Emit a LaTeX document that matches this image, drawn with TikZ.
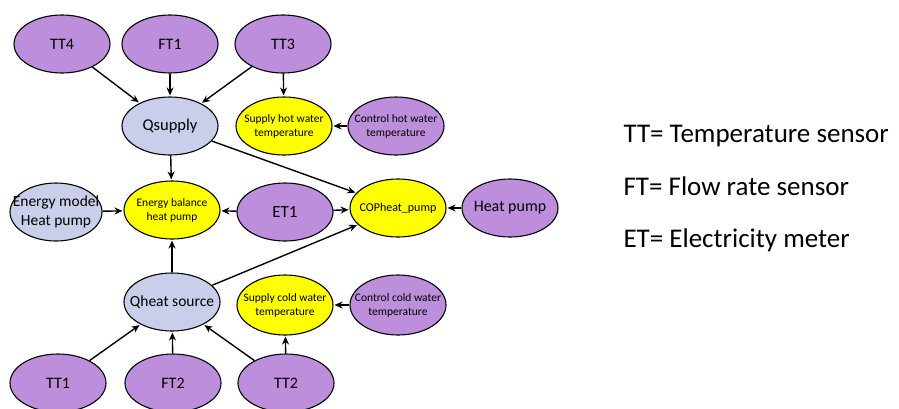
\documentclass[tikz,border=0pt]{standalone}
\usepackage{fontspec}
\setmainfont{Carlito}
\usetikzlibrary{shapes.geometric,arrows.meta}
\definecolor{sensor}{RGB}{189,142,220}
\definecolor{derived}{RGB}{201,206,234}
\definecolor{target}{RGB}{255,255,0}
\begin{document}
\begin{tikzpicture}[x=1pt,y=-1pt,
  bubble/.style={ellipse,draw=black,line width=1.1pt,minimum width=96pt,minimum height=58pt,inner xsep=-14pt,inner ysep=-8pt,align=center},
  sens/.style={bubble,fill=sensor,font=\fontsize{16}{18}\selectfont},
  calc/.style={bubble,fill=derived,font=\fontsize{15.5}{18}\selectfont},
  goal/.style={bubble,fill=target,font=\fontsize{11.5}{14}\selectfont},
  small/.style={font=\fontsize{11.5}{14}\selectfont},
  link/.style={-{Stealth[length=8pt,width=7pt]},line width=1.4pt,shorten >=1pt},
  legend/.style={anchor=base west,font=\fontsize{27}{30}\selectfont}]
\useasboundingbox (0,0) rectangle (899,408);

% sensors and inputs
\node[sens] (tt4) at (62,44) {TT4};
\node[sens] (ft1) at (170,44) {FT1};
\node[sens] (tt3) at (283,44) {TT3};
\node[calc,font=\fontsize{16.5}{19}\selectfont] (qsup) at (170,126) {Qsupply};
\node[goal] (shw) at (284,126) {Supply hot water\\temperature};
\node[sens,small] (chw) at (396,126) {Control hot water\\temperature};

\node[calc,minimum width=92pt,font=\fontsize{15.5}{19}\selectfont] (emod) at (56,212) {Energy model\\Heat pump};
\node[goal] (ebal) at (172,210) {Energy balance\\heat pump};
\node[sens,font=\fontsize{17}{20}\selectfont] (et1) at (285,212) {ET1};
\node[goal,font=\fontsize{12}{14}\selectfont] (cop) at (398,208) {COPheat\_pump};
\node[sens,font=\fontsize{16}{20}\selectfont] (hp) at (510,208) {Heat pump};

\node[calc] (qhs) at (172,302) {Qheat source};
\node[goal,minimum height=60pt] (scw) at (285,305) {Supply cold water\\temperature};
\node[sens,small,minimum height=60pt] (ccw) at (398,305) {Control cold water\\temperature};

\node[sens] (tt1) at (58,383) {TT1};
\node[sens] (ft2) at (173,383) {FT2};
\node[sens] (tt2) at (286,383) {TT2};

% connections
\draw[link] (tt4) -- (qsup);
\draw[link] (ft1) -- (qsup);
\draw[link] (tt3) -- (qsup);
\draw[link] (tt3) -- (shw);
\draw[link] (chw) -- (shw);
\draw[link] (qsup) -- (ebal);
\draw[link] (qsup) -- (cop);
\draw[link] (emod) -- (ebal);
\draw[link] (et1) -- (ebal);
\draw[link] (et1) -- (cop);
\draw[link] (hp) -- (cop);
\draw[link] (qhs) -- (ebal);
\draw[link] (qhs) -- (cop);
\draw[link] (tt1) -- (qhs);
\draw[link] (ft2) -- (qhs);
\draw[link] (tt2) -- (qhs);
\draw[link] (tt2) -- (scw);
\draw[link] (ccw) -- (scw);

% legend
\node[legend] (lgtt) at (620,142) {TT= Temperature sensor};
\node[legend] (lgft) at (620,195) {FT= Flow rate sensor};
\node[legend] (lget) at (620,247) {ET= Electricity meter};
\end{tikzpicture}
\end{document}
